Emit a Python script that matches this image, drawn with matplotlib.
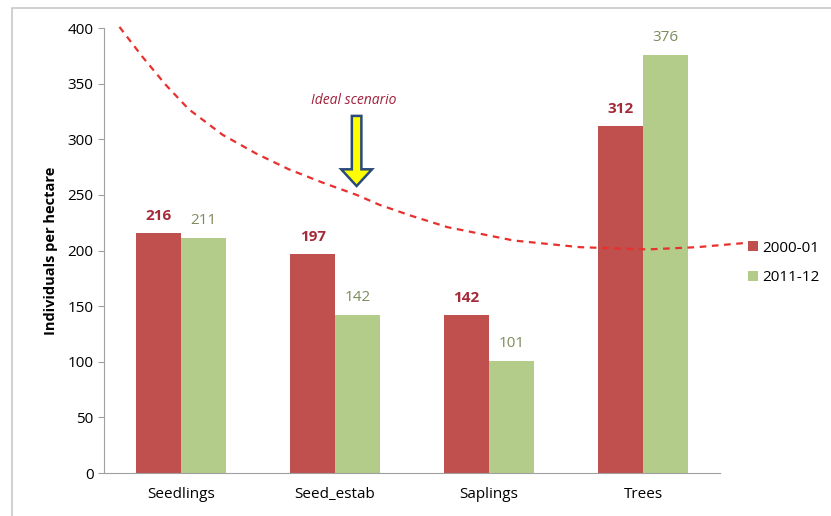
import numpy as np
import matplotlib
matplotlib.use("Agg")
import matplotlib.pyplot as plt
from matplotlib.patches import Rectangle, FancyArrow

plt.rcParams['font.family'] = ['Open Sans', 'DejaVu Sans']

# stand density by size class
clases = ["Seedlings", "Seed_estab", "Saplings", "Trees"]
v_2000 = [216, 197, 142, 312]
v_2011 = [211, 142, 101, 376]
series = ["2000-01", "2011-12"]

# hand-drawn "ideal" curve, x in category units
ideal_x = [-0.40, -0.25, -0.10, 0.05, 0.27, 0.49, 0.70, 0.92, 1.14, 1.29,
           1.50, 1.73, 2.16, 2.59, 3.03, 3.35, 3.68]
ideal_y = [401, 374, 349, 327, 304, 287, 273, 261, 250, 241,
           231, 221, 209, 203, 201, 203, 207]

ROJO = "#C0504D"
VERDE = "#B3CC8A"

fig = plt.figure(figsize=(8.31, 5.16), dpi=100)
ax = fig.add_axes([0.1252, 0.0833, 0.7413, 0.8624])

# marco gris alrededor del grafico
fig.patches.append(Rectangle((12/831, -0.01), 1.0, 1 - 8/516 + 0.01,
                             transform=fig.transFigure, fill=False,
                             edgecolor="#c8c8c8", lw=1.2))

x = np.arange(len(clases))
w = 0.29
b1 = ax.bar(x - w/2, v_2000, w, color=ROJO, label=series[0])
b2 = ax.bar(x + w/2, v_2011, w, color=VERDE, label=series[1])

for r, v in zip(b1, v_2000):
    ax.text(r.get_x() + r.get_width()/2, v + 9, str(v), ha="center", va="bottom",
            fontsize=11, fontweight="bold", color="#A52A3A")
for r, v in zip(b2, v_2011):
    ax.text(r.get_x() + r.get_width()/2, v + 9, str(v), ha="center", va="bottom",
            fontsize=11, color="#7C8C5A")

ax.plot(ideal_x, ideal_y, ls=(0, (3, 2.5)), color="#E8302E", lw=1.6, clip_on=False)

# flecha y texto
ax.add_patch(FancyArrow(1.14, 321, 0, -63, width=0.062, head_width=0.2,
                        head_length=15, length_includes_head=True,
                        facecolor="#FFFF00", edgecolor="#2A4A7A", lw=1.8))
ax.text(1.12, 335, "Ideal scenario", ha="center", va="center", fontsize=10,
        style="italic", color="#A0203A")

ax.set_xlim(-0.5, 3.5)
ax.set_ylim(0, 400)
ax.set_yticks(range(0, 401, 50))
ax.set_xticks(x)
ax.set_xticklabels(clases, fontsize=11)
ax.tick_params(axis="y", labelsize=11, length=4, color="#a0a0a0")
ax.tick_params(axis="x", length=0, pad=10)
ax.set_ylabel("Individuals per hectare", fontsize=10.5, fontweight="bold", labelpad=7)
for s in ["top", "right"]:
    ax.spines[s].set_visible(False)
for s in ["left", "bottom"]:
    ax.spines[s].set_color("#a0a0a0")

ax.legend(loc="center left", bbox_to_anchor=(1.045, 0.472), frameon=False,
          fontsize=11, handlelength=0.65, handleheight=0.65, handletextpad=0.3,
          labelspacing=0.95, borderpad=0, borderaxespad=0)

fig.savefig("out.png", dpi=100)
